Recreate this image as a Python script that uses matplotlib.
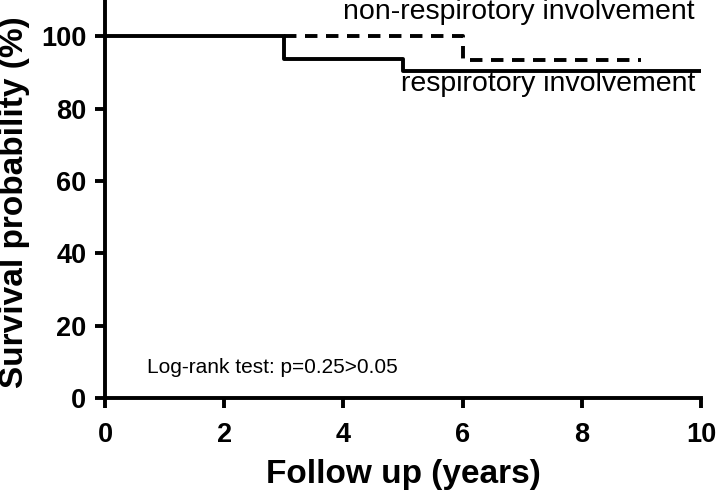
import matplotlib
matplotlib.use("Agg")
import matplotlib.pyplot as plt

plt.rcParams['font.family'] = ['Liberation Sans', 'DejaVu Sans']

# Data
resp_t = [0, 3, 5, 10]
resp_s = [100, 93.75, 90.3, 90.3]
nonresp_t = [3, 6, 9]
nonresp_s = [100, 93.33, 93.33]
xticks = [0, 2, 4, 6, 8, 10]
yticks = [0, 20, 40, 60, 80, 100]

fig = plt.figure(figsize=(7.16, 4.96), dpi=100)
ax = fig.add_axes([0.1467, 0.1976, 0.979 - 0.1467, 1 - 0.1976])

ax.step(nonresp_t, nonresp_s, where='post', color='black', lw=2.8, ls=(0, (3.2, 2.2)))
ax.step(resp_t, resp_s, where='post', color='black', lw=2.8)

ax.set_xlim(0, 10)
ax.set_ylim(0, 110)
ax.set_xticks(xticks)
ax.set_yticks(yticks)
for s in ['top', 'right']:
    ax.spines[s].set_visible(False)
for s in ['left', 'bottom']:
    ax.spines[s].set_linewidth(2.8)
ax.tick_params(width=2.8, length=7.5, labelsize=19.5)
ax.tick_params(axis='x', pad=10)
ax.tick_params(axis='y', pad=6)
for lab in ax.get_xticklabels() + ax.get_yticklabels():
    lab.set_fontweight('bold')
ax.set_xlabel('Follow up (years)', fontsize=24, fontweight='bold', va='baseline')
ax.set_ylabel('Survival probability (%)', fontsize=24, fontweight='bold')
ax.xaxis.set_label_coords(0.5, -(483 - 398) / 398)
ax.yaxis.set_label_coords(-(105 - 30) / 596, (398 - 202) / 398)

ax.text(9.9, 104.7, 'non-respirotory involvement', ha='right', va='baseline', fontsize=20.5)
ax.text(9.9, 84.8, 'respirotory involvement', ha='right', va='baseline', fontsize=20.5)
ax.text(0.70, 6.9, 'Log-rank test: p=0.25>0.05', ha='left', va='baseline', fontsize=15)

fig.savefig('out.png', dpi=100)
